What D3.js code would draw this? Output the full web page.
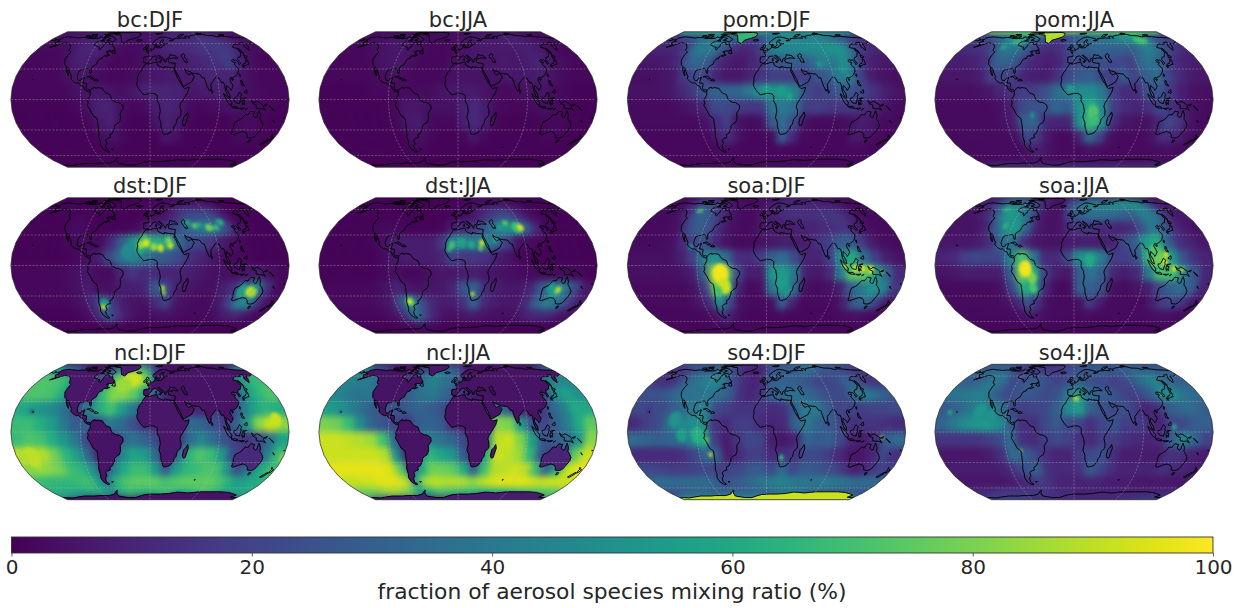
<!DOCTYPE html>
<html>
<head>
<meta charset="utf-8">
<script src="https://cdn.jsdelivr.net/npm/d3@7"></script>
<style>
  body { margin: 0; background: #fff; }
  text { font-family: "DejaVu Sans", sans-serif; fill: #262626; }
</style>
</head>
<body>
<div class="chart"></div>
<script>
// fraction (%) per 15x15 degree box, rows 82.5N -> 82.5S, columns 172.5W -> 172.5E
var bcDJF = [
[5,5,5,5,6,7,7,8,10,8,6,5,5,6,7,8,8,9,8,7,6,5,5,5],
[5,6,6,8,9,9,8,7,7,5,4,5,6,9,11,12,12,14,15,15,13,9,6,5],
[3,3,3,5,9,11,10,7,4,3,3,4,7,10,11,12,13,15,16,17,17,8,4,3],
[2,2,2,3,7,9,7,4,2,2,3,4,6,7,7,8,10,12,14,18,12,5,3,2],
[2,2,2,2,4,6,5,3,2,2,3,5,6,7,7,7,9,10,10,10,5,3,2,2],
[2,2,2,2,2,4,5,6,5,4,6,9,10,10,9,6,7,8,9,7,4,3,2,2],
[1,1,1,1,1,2,4,9,9,4,2,3,8,10,8,3,2,3,4,5,4,3,2,1],
[1,1,1,1,1,1,2,7,9,3,1,1,5,9,7,2,1,1,1,2,3,3,1,1],
[1,1,1,1,1,1,1,4,5,2,1,1,1,6,4,1,1,1,1,1,3,3,2,1],
[1,1,1,1,1,1,1,2,2,1,1,1,1,1,1,1,1,1,1,1,1,1,1,1],
[1,1,1,1,1,1,1,1,1,1,1,1,1,1,1,1,1,1,1,1,1,1,1,1],
[1,1,1,1,1,1,1,1,1,1,1,1,1,1,1,1,1,1,1,1,1,1,1,1]];
var bcJJA = [
[3,3,3,3,4,4,4,5,5,4,3,3,3,4,5,5,5,5,5,5,4,3,3,3],
[3,4,4,5,7,6,5,4,3,3,3,4,5,6,7,8,8,8,9,9,7,5,4,3],
[2,2,3,4,6,6,6,4,3,2,2,3,5,6,7,7,7,7,8,9,8,5,3,2],
[2,2,2,3,5,6,6,4,2,2,2,4,5,6,6,6,7,6,7,10,8,4,3,2],
[2,2,2,2,3,4,4,3,2,2,2,4,5,5,5,5,7,6,7,8,5,3,2,2],
[1,1,1,1,2,2,3,3,3,3,5,6,7,7,5,3,3,4,5,5,3,2,1,1],
[1,1,1,1,1,1,2,6,6,4,4,4,9,12,7,3,2,2,3,4,3,2,1,1],
[1,1,1,1,1,1,2,7,8,3,2,2,8,12,8,2,1,1,1,2,2,2,1,1],
[1,1,1,1,1,1,1,4,4,2,1,1,2,6,3,1,1,1,1,1,2,2,1,1],
[1,1,1,1,1,1,1,2,2,1,1,1,1,1,1,1,1,1,1,1,1,1,1,1],
[1,1,1,1,1,1,1,1,1,1,1,1,1,1,1,1,1,1,1,1,1,1,1,1],
[1,1,1,1,1,1,1,1,1,1,1,1,1,1,1,1,1,1,1,1,1,1,1,1]];
var pomDJF = [
[30,30,30,30,32,35,38,45,50,40,30,28,30,35,38,38,36,36,34,32,30,30,30,30],
[15,18,22,30,38,42,40,30,30,18,18,25,38,45,48,48,45,45,45,42,35,25,18,15],
[10,10,12,20,40,42,40,25,14,10,12,20,42,46,46,46,48,48,50,52,48,25,14,10],
[6,6,8,12,30,34,27,12,8,6,10,14,27,27,30,27,34,44,40,50,32,12,8,6],
[4,4,5,6,15,22,20,10,6,6,10,15,18,18,18,18,25,28,42,42,18,8,5,4],
[5,5,5,6,10,16,25,30,32,32,40,50,52,52,44,22,18,22,28,25,20,14,8,5],
[3,3,3,3,4,6,10,22,22,18,16,16,38,40,34,18,18,16,16,16,12,9,5,3],
[3,3,3,3,3,3,5,12,18,5,3,4,28,35,22,5,3,3,3,5,8,6,3,3],
[2,2,2,2,2,2,3,10,12,4,2,2,3,30,12,3,2,2,2,2,7,6,3,2],
[2,2,2,2,2,2,2,4,3,2,2,2,2,3,2,2,2,2,2,2,2,3,2,2],
[2,2,2,2,2,2,2,2,2,2,2,2,2,2,2,2,2,2,2,2,2,2,2,2],
[3,3,3,3,3,3,3,3,3,3,3,3,3,3,3,3,3,3,3,3,3,3,3,3]];
var pomJJA = [
[30,30,30,35,45,50,50,60,60,40,30,25,30,35,40,42,42,42,50,58,50,38,30,28],
[18,22,28,40,55,55,45,30,25,18,18,25,32,35,38,40,42,45,50,60,55,35,22,18],
[12,14,16,25,40,40,35,22,14,12,14,22,30,30,32,32,30,30,30,42,42,28,18,12],
[8,8,10,14,30,32,25,14,10,8,10,20,22,22,25,22,22,18,35,38,30,15,10,8],
[6,6,6,8,18,20,18,10,8,8,14,22,28,30,22,18,28,20,30,35,20,12,8,6],
[4,4,4,4,6,10,14,18,18,24,35,42,48,48,40,18,12,14,25,25,15,8,5,4],
[3,3,3,3,3,4,8,22,25,25,32,28,50,62,45,18,12,10,14,22,14,8,4,3],
[3,3,3,3,3,4,8,30,32,12,10,10,50,68,50,14,6,5,4,10,22,15,5,3],
[3,3,3,3,3,3,5,22,16,6,3,3,10,35,20,5,3,3,3,5,14,12,6,3],
[3,3,3,3,3,3,3,10,8,4,3,3,3,5,4,3,3,3,3,3,3,4,4,3],
[3,3,3,3,3,3,3,4,4,3,3,3,3,3,3,3,3,3,3,3,3,3,3,3],
[15,15,15,15,15,15,15,15,15,15,15,15,15,15,15,15,15,15,15,15,15,15,15,15]];
var dstDJF = [
[1,1,1,1,1,1,1,1,1,1,1,1,1,1,1,1,1,1,1,1,1,1,1,1],
[1,1,1,1,1,1,1,1,1,1,1,2,3,3,5,8,8,8,8,5,2,1,1,1],
[1,1,1,1,2,2,1,1,1,1,1,2,3,5,10,18,22,22,22,12,3,1,1,1],
[1,1,1,1,3,3,1,1,1,1,2,6,12,15,20,32,38,42,38,20,5,2,1,1],
[1,1,1,1,2,3,3,3,12,30,50,68,62,58,38,22,20,16,8,4,2,1,1,1],
[1,1,1,1,1,2,4,8,22,38,45,40,30,28,22,14,10,6,3,2,2,1,1,1],
[2,2,2,2,3,4,6,3,3,10,15,12,12,10,10,8,6,4,4,4,6,8,4,2],
[2,2,2,2,3,4,8,4,4,8,8,10,28,20,8,6,4,4,8,14,30,50,14,3],
[2,2,2,2,3,5,12,30,16,8,5,5,12,20,6,4,3,3,6,18,45,45,12,3],
[1,1,1,1,2,4,12,30,16,8,4,3,4,5,4,3,3,3,3,6,10,10,5,2],
[1,1,1,1,1,1,2,3,2,1,1,1,1,1,1,1,1,1,1,1,1,1,1,1],
[1,1,1,1,1,1,1,1,1,1,1,1,1,1,1,1,1,1,1,1,1,1,1,1]];
var dstJJA = [
[1,1,1,1,1,1,1,1,1,1,1,1,1,1,1,1,1,1,1,1,1,1,1,1],
[1,1,1,1,1,1,1,1,1,1,1,2,2,3,5,6,8,6,5,3,1,1,1,1],
[1,1,1,1,1,1,1,1,1,1,1,2,3,5,10,16,22,22,12,5,2,1,1,1],
[1,1,1,1,2,3,2,1,1,1,2,8,12,15,26,42,52,48,32,12,2,1,1,1],
[1,1,1,1,2,5,8,8,8,8,15,45,45,42,48,30,18,5,3,2,1,1,1,1],
[1,1,1,1,1,3,6,8,8,8,10,20,16,16,14,8,5,2,1,1,1,1,1,1],
[1,1,1,1,1,2,4,2,2,4,6,6,8,8,6,5,4,3,3,3,3,3,2,1],
[2,2,2,2,3,5,10,6,5,6,6,10,26,30,12,8,6,6,10,28,40,42,22,6],
[3,3,3,3,4,6,24,45,24,12,8,8,14,32,12,8,6,6,12,30,42,38,20,8],
[2,2,2,2,3,6,16,40,22,10,5,4,6,8,6,4,4,4,6,10,12,12,8,4],
[1,1,1,1,1,2,3,5,3,2,1,1,1,1,1,1,1,1,1,1,1,1,1,1],
[1,1,1,1,1,1,1,1,1,1,1,1,1,1,1,1,1,1,1,1,1,1,1,1]];
var soaDJF = [
[3,3,5,8,10,8,6,5,4,3,3,3,3,4,5,8,8,6,5,4,3,3,3,3],
[3,3,8,18,30,20,14,8,5,3,3,5,8,10,12,12,12,10,10,10,8,5,3,3],
[3,3,4,12,28,30,22,10,5,3,3,6,8,12,14,14,14,14,16,16,12,6,3,3],
[3,3,3,5,22,30,25,12,5,3,3,6,8,8,8,10,10,12,14,16,10,5,3,3],
[3,3,3,4,12,22,24,10,5,3,3,5,6,8,8,8,14,18,28,30,18,8,4,3],
[4,4,4,4,8,18,42,50,35,14,12,18,30,35,22,10,10,18,50,60,35,18,8,5],
[4,4,4,4,5,8,30,85,78,22,8,8,52,55,38,8,6,12,42,75,75,55,30,12],
[3,3,3,3,3,5,18,78,60,10,3,4,40,52,35,5,3,4,8,28,40,50,45,15],
[3,3,3,3,3,6,12,50,22,4,3,3,4,30,10,3,3,3,3,10,30,35,20,6],
[2,2,2,2,2,3,5,15,6,3,2,2,2,3,2,2,2,2,2,3,4,5,4,2],
[2,2,2,2,2,2,2,2,2,2,2,2,2,2,2,2,2,2,2,2,2,2,2,2],
[2,2,2,2,2,2,2,2,2,2,2,2,2,2,2,2,2,2,2,2,2,2,2,2]];
var soaJJA = [
[5,6,10,14,15,14,14,14,10,5,3,3,6,8,10,10,10,10,12,10,6,5,5,5],
[8,10,20,38,50,45,30,20,10,4,5,25,35,45,50,45,50,50,52,55,45,20,8,8],
[5,6,10,22,50,55,45,25,8,4,5,22,30,35,35,35,32,30,30,42,42,22,8,6],
[5,5,5,10,30,50,55,30,8,5,5,12,15,15,12,12,10,12,25,40,35,15,8,5],
[6,6,6,8,14,35,38,14,6,5,5,7,8,8,8,10,22,30,55,62,30,14,10,6],
[10,12,18,22,20,22,45,72,40,12,12,22,50,55,40,18,18,25,65,80,55,25,14,10],
[5,6,8,8,8,8,30,80,62,18,8,6,30,38,28,10,8,12,40,70,70,45,25,10],
[3,3,3,3,3,5,22,62,50,10,3,3,30,30,25,5,3,5,8,20,30,35,30,10],
[3,3,3,3,3,5,10,25,14,4,3,3,4,18,8,3,3,3,3,8,18,20,15,5],
[3,3,3,3,3,3,4,10,5,3,3,3,3,3,3,3,3,3,3,3,4,5,4,3],
[2,2,2,2,2,2,2,2,2,2,2,2,2,2,2,2,2,2,2,2,2,2,2,2],
[2,2,2,2,2,2,2,2,2,2,2,2,2,2,2,2,2,2,2,2,2,2,2,2]];
var nclDJF = [
[8,8,6,5,5,5,5,5,8,25,30,15,10,5,5,5,5,5,5,5,5,5,5,8],
[55,50,40,25,10,5,10,30,62,80,78,70,30,8,5,5,5,5,5,5,5,15,35,52],
[72,72,70,62,30,5,30,62,80,90,92,80,45,10,5,5,5,5,5,5,20,45,62,68],
[72,72,70,62,42,12,40,68,82,82,75,55,30,12,5,5,5,5,5,8,30,55,65,72],
[60,55,50,45,35,22,42,62,70,55,40,25,5,5,8,12,10,18,10,22,42,58,65,62],
[68,68,62,55,40,28,30,25,40,35,25,15,10,8,8,35,32,25,18,30,55,82,92,82],
[68,72,70,62,52,40,22,8,15,30,38,32,22,8,15,35,45,35,25,18,15,22,38,58],
[88,90,88,78,65,55,32,8,18,45,58,55,35,8,35,65,72,68,52,22,12,22,42,68],
[82,85,82,78,68,65,50,22,42,60,68,68,55,28,55,65,68,72,70,50,22,40,58,68],
[68,66,66,66,68,70,58,40,65,72,75,75,75,70,72,75,75,75,75,72,62,55,58,62],
[62,62,62,60,60,62,58,52,62,68,65,62,65,70,68,62,62,68,70,68,62,60,60,60],
[30,25,15,10,8,15,15,5,5,5,5,5,5,5,5,5,5,5,5,5,5,5,8,15]];
var nclJJA = [
[8,8,6,5,5,5,5,5,5,20,25,12,8,5,5,5,5,5,5,5,5,5,5,8],
[42,38,30,20,8,5,8,20,32,42,38,32,20,5,5,5,5,5,5,5,5,12,28,36],
[45,42,42,35,18,5,18,30,40,45,38,35,20,6,5,5,5,5,5,5,15,38,48,46],
[45,40,38,40,30,10,25,32,38,40,35,28,15,8,5,5,5,5,5,8,25,50,58,50],
[55,52,42,35,28,25,25,28,32,30,25,15,5,5,12,42,30,10,8,15,32,42,60,60],
[80,78,68,48,32,25,22,15,28,32,28,15,8,8,22,82,80,55,25,20,30,42,60,75],
[92,92,90,88,85,70,35,8,38,42,38,32,22,8,45,90,92,80,55,25,30,35,52,82],
[92,92,92,92,92,88,48,8,45,65,58,52,28,10,62,92,90,85,65,25,15,35,75,92],
[96,96,96,96,96,94,75,30,60,78,78,75,62,30,68,88,90,92,90,68,30,60,90,96],
[90,92,92,95,95,95,90,55,85,90,88,88,88,82,88,92,95,95,95,95,90,92,92,92],
[75,78,80,85,85,82,75,55,60,70,70,68,65,68,60,62,62,62,65,68,70,72,72,72],
[22,18,15,15,15,15,8,8,8,8,8,8,8,8,8,8,8,8,8,8,8,8,12,20]];
var so4DJF = [
[25,25,25,22,22,22,20,15,15,15,12,15,22,25,25,28,30,35,35,35,30,28,25,25],
[15,15,20,28,30,32,40,30,18,10,8,10,25,30,30,30,38,35,28,25,25,22,18,15],
[15,12,18,32,38,42,48,38,22,14,10,12,30,32,30,28,25,20,20,22,32,28,18,15],
[25,25,28,35,38,38,40,35,28,14,10,15,30,35,38,35,30,25,22,22,38,42,35,28],
[22,20,22,28,35,40,45,22,18,15,15,15,12,14,28,42,40,30,20,20,18,20,20,22],
[12,18,22,35,45,48,50,15,12,18,18,12,10,12,30,40,32,28,20,14,15,15,14,12],
[35,32,30,32,35,45,62,18,8,15,22,20,8,6,10,32,28,30,22,10,8,14,30,35],
[12,12,12,12,14,20,32,30,8,12,18,18,12,14,15,22,22,18,12,6,6,10,22,14],
[22,20,18,18,18,20,22,18,20,22,28,28,22,35,22,28,28,25,22,15,8,12,18,20],
[35,35,35,35,35,35,32,22,28,30,35,40,42,45,42,40,40,40,42,40,38,35,35,35],
[25,25,28,30,32,28,30,30,30,30,30,30,32,35,38,38,35,30,30,28,28,28,28,25],
[60,60,60,60,60,60,60,50,50,60,60,60,60,60,60,60,60,60,60,60,60,60,60,60]];
var so4JJA = [
[22,22,22,20,22,18,15,12,12,12,15,20,22,22,22,22,22,22,25,25,25,22,22,22],
[30,32,35,38,25,18,18,18,18,18,18,25,25,28,30,30,28,28,30,35,35,32,30,30],
[30,30,35,42,35,22,25,30,28,22,20,25,30,25,22,22,18,22,28,38,45,40,32,30],
[38,40,42,42,30,22,25,28,25,22,25,42,55,35,30,28,22,18,22,30,45,48,38,35],
[28,32,38,45,42,38,20,18,20,22,30,48,55,30,25,22,25,18,10,14,28,32,35,30],
[32,40,48,52,55,48,30,14,14,22,28,22,20,14,22,25,18,18,14,10,20,22,28,30],
[15,15,15,15,18,22,35,14,12,18,22,20,14,12,18,18,14,12,10,12,30,45,32,20],
[6,6,6,6,8,14,35,30,22,14,10,10,18,22,25,14,8,8,8,8,14,14,10,8],
[8,8,8,8,8,10,18,25,30,14,12,12,14,28,22,14,10,10,10,10,14,12,10,8],
[6,6,6,6,6,8,10,14,18,14,10,10,10,10,10,8,8,8,6,6,6,6,6,6],
[12,12,14,16,16,16,16,16,16,14,12,12,10,10,10,10,10,10,10,10,10,10,10,12],
[25,22,22,20,20,18,14,12,14,14,14,14,12,12,12,12,12,12,14,14,16,18,20,22]];

// small features finer than a box: [lon, lat, %, radius deg] or [lon0, lat0, lon1, lat1, %]
var pomDJFspots = [[-180,77,-90,90,62],[-90,77,0,90,62],[0,78,90,90,56],[90,78,180,90,56],[0,9,55,5],[20,8,55,5],[30,3,58,4],[75,35,55,3],[105,30,50,4],[110,22,60,2]];
var pomJJAspots = [[-180,77,-90,90,80],[-90,77,0,90,80],[0,78,90,90,78],[90,78,180,90,78],[25,-12,72,7],[28,-20,68,5],[-5,10,55,4],[-100,63,65,4],[120,65,72,5],[-55,-15,52,3],[-115,55,60,3]];
var dstDJFspots = [[-30,14,48,7],[-14,15,60,5],[-12,20,85,4],[-5,22,95,4],[5,18,85,4],[14,17,92,4],[27,20,92,4],[25,24,80,4],[-8,28,70,3],[55,43,55,4],[65,40,75,3],[72,41,60,3],[85,38,80,4],[95,38,70,3],[105,44,62,4],[125,-25,55,7],[135,-25,92,5],[140,-27,85,5],[-65,-38,55,5],[-69,-42,90,3],[17,-22,85,3],[19,-27,80,2.5]];
var dstJJAspots = [[-8,20,70,4],[-12,16,65,3],[5,22,58,5],[18,20,60,4],[32,22,95,3],[30,17,75,3],[85,38,70,6],[90,38,96,3.5],[70,43,75,3],[60,38,55,3],[50,25,55,4],[-68,-36,70,5],[-69,-36,96,3],[20,-28,90,2.5],[125,-22,55,5],[130,-28,50,5],[135,-24,85,4]];
var soaDJFspots = [[-60,-8,98,10],[-56,-20,92,8],[-65,-25,70,5],[20,-15,55,8],[28,-25,50,5],[-100,18,50,3],[115,-3,95,3],[125,-3,98,3],[135,-4,95,4],[102,0,92,2.5],[150,-6,80,2],[-112,58,70,3]];
var soaJJAspots = [[-55,-12,80,6],[-55,-22,72,5],[-63,-3,98,8],[20,5,60,6],[105,15,72,5],[120,10,95,3],[118,3,98,3],[130,-3,95,3],[140,-4,90,2.5],[103,3,85,2.5],[-100,40,65,3],[-115,60,65,3]];
var nclDJFspots = [[-160,-25,90,10],[-175,-25,88,8],[-28,56,92,8],[-40,48,85,8],[165,12,92,7],[-157,20,15,2]];
var nclJJAspots = [[-157,20,30,2]];
var so4DJFspots = [[-120,12,50,8],[-110,-3,55,7],[-90,-3,62,8],[-75,-22,90,2.5],[-78,-8,70,3],[150,-5,85,2],[20,-25,65,3],[-157,20,10,2]];
var so4JJAspots = [[-125,20,52,8],[-110,15,50,7],[3,33,88,3],[-70,-18,90,1.5],[125,38,70,2],[-165,19,62,2.5],[130,5,60,3],[150,-5,70,1.5]];

// land masses that carry one value: [coast name, %]
var pomDJFice = [["greenland",66]];
var pomJJAice = [["greenland",88]];
var so4DJFice = [["antarctica",92]];
var nclDJFland = [["greenland",8],["antarctica",5],["northAmerica",6],["southAmerica",5],["africa",6],["eurasia",5],["australia",12],["madagascar",10]];
var nclJJAland = [["greenland",6],["antarctica",8],["northAmerica",5],["southAmerica",5],["africa",5],["eurasia",5],["australia",10],["madagascar",8]];

var titles = ["bc:DJF","bc:JJA","pom:DJF","pom:JJA","dst:DJF","dst:JJA","soa:DJF","soa:JJA","ncl:DJF","ncl:JJA","so4:DJF","so4:JJA"];
var fields = [bcDJF,bcJJA,pomDJF,pomJJA,dstDJF,dstJJA,soaDJF,soaJJA,nclDJF,nclJJA,so4DJF,so4JJA];
var spots = [[],[],pomDJFspots,pomJJAspots,dstDJFspots,dstJJAspots,soaDJFspots,soaJJAspots,nclDJFspots,nclJJAspots,so4DJFspots,so4JJAspots];
var lands = [[],[],pomDJFice,pomJJAice,[],[],[],[],nclDJFland,nclJJAland,so4DJFice,[]];

var colorTicks = [0,20,40,60,80,100];
var colorLabel = "fraction of aerosol species mixing ratio (%)";
var gridLons = [-90,0,90];
var gridLats = [-60,-30,0,30,60];

// coastlines, lon/lat
var greenland = [[-73,78.2],[-60,82],[-45,82.7],[-30,83.5],[-20,81.5],[-18,76],[-22,71],[-30,68],[-40,65],[-43,60],[-50,62],[-53,67],[-55,70],[-58,75],[-68,76],[-73,78.2]];
var antarctica = [[-180,-78],[-160,-79],[-150,-77],[-130,-74],[-110,-74],[-100,-73],[-80,-73],[-68,-70],[-60,-64],[-58,-63.5],[-62,-68],[-62,-74],[-45,-78],[-30,-78],[-20,-74],[-10,-71],[5,-70],[20,-70],[35,-69],[50,-66.5],[60,-67],[70,-68],[80,-67],[90,-66],[110,-66],[130,-66],[145,-67],[160,-70],[168,-72],[165,-77],[170,-78],[180,-78]];
var northAmerica = [[-168,65.5],[-164,66.5],[-166,68.5],[-162,70],[-156.5,71.3],[-150,70.5],[-141,69.7],[-135,69],[-128,70],[-120,69.5],[-115,68],[-108,68],[-100,68],[-96,68.5],[-94,71.5],[-90,69],[-85,69.5],[-82,68],[-86,66],[-87,64.5],[-91,63],[-94,61],[-94.5,58.8],[-92,57],[-88,56.5],[-85,55.3],[-82.3,55],[-82,52.9],[-79.5,51.3],[-79,52],[-79,54.5],[-77,56],[-78,58.7],[-77.5,61],[-74,62.2],[-70,61],[-69.5,59],[-66,58.7],[-64.5,60.3],[-61.5,56.5],[-57,53.5],[-56,52],[-60,50.2],[-65,50.2],[-68,48.9],[-65,49.2],[-64.5,47.5],[-65,46],[-61,45.3],[-64,44.3],[-66,43.7],[-66,45],[-69,44],[-70.7,43],[-70,41.7],[-74,40.6],[-75.5,38],[-76,35],[-78,34],[-81,32],[-81.5,30],[-80,26.8],[-80.4,25.2],[-81.8,26],[-82.8,28],[-84,30],[-86,30.4],[-89,30.2],[-90,29.2],[-94,29.6],[-97,28],[-97.5,25],[-97.8,22.3],[-96,19],[-94,18.2],[-91.5,18.6],[-90.5,21],[-87,21.5],[-88,18.5],[-88.5,16],[-84,15.8],[-83.3,14.8],[-83.7,11],[-82,9],[-79.7,9.5],[-77.3,8.7],[-78,7.5],[-80,7.3],[-83,8.3],[-85.7,10],[-87.5,13],[-91,14],[-94.5,16.2],[-97,15.8],[-101,17.3],[-105.5,20],[-105.5,22.5],[-109,26],[-112.5,30],[-114.7,31.6],[-112,27],[-109.7,23],[-112,25],[-115,28.5],[-117,32.5],[-120.5,34.5],[-122.5,37.5],[-124.3,40.3],[-124,46],[-123,49],[-128,51],[-130,54.5],[-134,58],[-140,60],[-147,61],[-152,59.5],[-158,56.5],[-164,54.7],[-158,58.5],[-162,59.5],[-165,61.5],[-161,64],[-168,65.5]];
var southAmerica = [[-77.3,8.7],[-75.5,10.7],[-72,12],[-71.5,10.8],[-68,11.5],[-62,10.7],[-60,8.5],[-57,6],[-52,4.8],[-50,1],[-48,-1],[-44,-2.7],[-40,-3],[-35.2,-5.5],[-35,-9],[-39,-13],[-39,-18],[-41,-22],[-45,-23.7],[-48.5,-26],[-49,-29],[-53,-33.5],[-57,-35],[-57,-38],[-62,-39],[-65,-41],[-65,-45],[-68,-47],[-69,-51],[-68.3,-52.5],[-65.5,-55],[-69,-55.5],[-74,-52],[-75.5,-47],[-73.5,-42],[-73.5,-37],[-71.5,-32],[-70.5,-25],[-70.3,-18.5],[-75,-15.5],[-78,-10],[-81.3,-6],[-80,-3],[-81,-0.5],[-79.5,1.5],[-77.5,4],[-77.5,7],[-78,7.5],[-77.3,8.7]];
var africa = [[-5.9,35.8],[-1,35.2],[5,36.8],[10,37.3],[11,34],[15,32.3],[20,31],[20,32.8],[25,31.7],[32,31.2],[34.3,31],[33,28],[35.5,24],[37.3,20],[38.5,18],[41,15],[43.2,12],[45,10.5],[51.2,11.8],[49,7],[44,1],[40,-3.5],[38.8,-6.5],[40.5,-11],[40.5,-15.5],[36,-19],[35,-24],[32.8,-26],[32,-29],[28,-33],[25,-34],[20,-34.8],[18.3,-34],[15,-27],[14.5,-22],[11.8,-17.5],[13.5,-11],[12,-5],[9,-1],[9.5,3],[8.5,4.5],[5,5.8],[1,5.8],[-4,5.2],[-8,4.4],[-13,8.5],[-16.5,12.5],[-17.4,14.8],[-16.3,19],[-17,21],[-14.5,26],[-11,29],[-9.7,31.5],[-5.9,35.8]];
var eurasiaWest = [[-5.5,36],[-9,37],[-9.3,39],[-9,43],[-2,43.5],[-1,46],[-4.5,48.4],[-1.5,48.7],[1.5,50.5],[4,52],[8,54],[8.2,57],[10.5,57.5],[10,54.5],[14,54],[19,54.5],[21,57],[24,57.3],[24,59.3],[30,60],[23,60],[21.5,62.5],[25.3,65.3],[22,65.7],[18,62.5],[17.5,60],[18.5,59],[16,56.2],[13,55.5],[11,59],[8,58],[5.5,59],[5.5,62],[13,67],[19,70],[25,71],[31,70],[41,67],[40,65],[35,64.5],[38,64],[44,66],[44,68],[54,68.5],[60,69],[68,68.5],[67,72],[73,72.5],[73,68],[75,72],[80,73.5],[87,75],[100,76.5],[105,77.7],[113,74],[125,73.5],[130,71],[140,72.5],[150,71.5],[160,70],[170,69.8],[180,68.9]];
var eurasiaEast = [[180,65],[179,62.5],[171,60],[164,59.8],[162,56],[159,53],[156.7,51],[155.7,56],[161,60.5],[163,62],[156,61.5],[155,59.3],[143,59.3],[135,54.7],[140,53.5],[140,48],[135,43.5],[130.5,42.5],[128,40],[129.4,36],[126.5,34.5],[126.5,37.5],[125,39.7],[121.5,39],[122,40.5],[118,39],[119,37.5],[122.5,37],[119.5,35],[122,31],[121.5,28],[118,24.5],[114,22.3],[110,21],[108,21.5],[106,19],[109,13],[107,10.5],[105,8.7],[105,10],[100.5,13.5],[99.5,10],[103,5.5],[104,1.5],[101,3],[98.5,8],[98,14],[97,16.5],[94.5,16],[92,21],[89,22],[86.5,20.5],[82,16.5],[80,15],[80,11],[77.5,8],[75,12.5],[73,19],[72.5,21],[70,21],[67,24.8],[62,25.2],[57,25.7],[56,27],[51,28],[48,30],[48.5,28],[50.5,25],[52,24],[56,25.5],[59.5,22.5],[55,17],[45,13],[43,13],[40,20],[35,28],[34.5,31],[36,36],[32,36.2],[27,37],[26.5,40],[29,41],[35,42],[41.5,41.5],[37,45],[33.5,45],[30.5,46],[28,42],[24,40.8],[23,38],[22,37],[19.5,41.5],[14,45],[12.3,45],[16,41.8],[18.4,40],[16,38],[15.7,40],[11,42.5],[8.5,44.3],[3.5,43.3],[3,41.7],[0,39.5],[-0.5,38],[-2,36.7],[-5.5,36]];
var australia = [[114,-22],[113.5,-26],[115,-31],[115,-34.3],[118,-35],[124,-33],[129,-31.6],[134,-32.5],[138,-35],[140,-38],[144,-38.5],[147,-38.5],[150,-37],[151.5,-33],[153.5,-28],[153,-25],[149,-21],[146,-19],[145.3,-15],[142.5,-10.8],[141.5,-13],[141,-17],[139,-17.5],[136,-15.5],[136.8,-12],[132,-11.3],[130,-13],[129,-15],[125,-14.5],[122,-18],[119,-20],[114,-22]];
var madagascar = [[49.3,-12],[50.5,-15.5],[47.5,-25],[45,-25.5],[43.5,-23],[44.5,-17],[47,-15.5],[49.3,-12]];
var islands = [
[[-180,68.9],[-175,67.5],[-170,66],[-173,64.3],[-178,65.5],[-180,65]],
[[145,-41],[148,-41],[148,-43],[146,-43.6],[145,-41]],
[[173,-35],[175.5,-37],[178.3,-37.8],[176.8,-40],[175,-41.5],[174,-39.5],[174.7,-37.5],[173,-35]],
[[172.7,-40.5],[174,-41.7],[171,-45],[169,-46.6],[166.5,-46],[169,-43.5],[172.7,-40.5]],
[[131,-1],[135,-3.3],[138,-1.7],[141,-2.6],[145,-4.5],[147.5,-6],[147,-7],[150.5,-10.5],[146,-8.7],[143,-9],[138,-8.3],[138,-5.5],[133,-4],[132.5,-2.7],[131,-1]],
[[109,1.5],[111,1.5],[113,3],[116,7],[119,5],[117.5,3],[118,1],[116.5,-1.5],[116,-4],[111,-3],[109,-0.5],[109,1.5]],
[[95.5,5.5],[98,4],[104,-1],[106,-3],[105.5,-5.8],[102,-4],[98.5,0],[95.5,5.5]],
[[105.3,-6.5],[108.5,-6.7],[111,-6.5],[114.5,-7.8],[114.5,-8.7],[108,-7.8],[105.3,-6.5]],
[[120,1],[125,1.5],[121,0.5],[120.5,-1],[123,-1],[122,-3],[122.5,-5],[120.5,-3],[120.3,-5.5],[119.5,-5],[119,-2.5],[120,1]],
[[120.5,18.5],[122,18.3],[122,16],[124,13],[121,13.7],[120,15.5],[120.5,18.5]],
[[122,7],[124,8.5],[126,9.5],[126.3,7],[125.3,5.8],[124,6.5],[122,7]],
[[116,-8.5],[119,-8.5],[123,-8.3],[120,-9.5],[116,-8.5]],
[[124,-10],[127,-8.5],[125,-9.5],[124,-10]],
[[148,-5.7],[152,-4.3],[151,-6],[148,-5.7]],
[[155,-6],[157,-7.5],[160,-9],[161.5,-10.5],[158,-8.5],[155,-6]],
[[164,-20],[167,-22.3],[165,-21.5],[164,-20]],
[[177.3,-17.5],[178.5,-18],[177.5,-18.3],[177.3,-17.5]],
[[121,25],[122,24.5],[121,22],[120,23],[121,25]],
[[109,20],[111,19.7],[110,18.3],[108.7,19],[109,20]],
[[80,9.7],[82,7.5],[80.5,6],[79.8,8],[80,9.7]],
[[131,34.3],[133,35.5],[136,36],[137,37.2],[139.5,38.5],[140,40.7],[141.5,41.3],[142,39.5],[141,37],[140.5,35],[137,34.6],[135,33.7],[132,33.7],[131,34.3]],
[[140,42],[141.7,45.5],[145.2,43.5],[143,42],[141,42.5],[140,42]],
[[130,33.5],[132,33],[131,31],[130,32],[130,33.5]],
[[142,54],[143,52],[144,49],[142.5,46],[142,50],[142,54]],
[[-5.5,50],[1.5,51.2],[1.5,53],[-1.5,55],[-2,57.5],[-5,58.5],[-6,56.5],[-3,54],[-5,52],[-5.5,50]],
[[-6,52],[-6,55],[-8,55],[-10,53],[-10,51.7],[-6,52]],
[[-24,65.5],[-18,66.5],[-14,65],[-19,63.5],[-22.5,64],[-24,65.5]],
[[-85,22],[-80,23],[-74.5,20.2],[-78,19.9],[-82,22],[-85,22]],
[[-74.5,18.5],[-72,20],[-68.5,18.5],[-71,18],[-74.5,18.5]],
[[-80,73.7],[-72,71.5],[-62,66.5],[-65,62.5],[-72,64],[-78,65],[-73,68],[-80,70],[-89,71],[-80,73.7]],
[[-117,70],[-105,69],[-102,72],[-110,73],[-117,70]],
[[-90,76.5],[-75,78],[-62,82.5],[-75,83],[-90,81.5],[-90,76.5]],
[[-125,72],[-118,71],[-118,74],[-125,74],[-125,72]],
[[-90,75],[-80,74.5],[-80,75.5],[-92,76.5],[-90,75]],
[[-117,75.2],[-106,75],[-106,76.5],[-117,76],[-117,75.2]],
[[-87,64],[-81,63.7],[-85,65.5],[-87,64]],
[[-59,47.8],[-56,51.5],[-53,47],[-56,47],[-59,47.8]],
[[12,78],[20,80.3],[27,80],[20,77],[12,78]],
[[52,71],[57,71],[69,77],[60,76],[52,71]],
[[95,79],[105,78],[100,81],[95,79]],
[[137,75],[148,75],[140,76],[137,75]],
[[47,45],[51,47],[53,45],[51,43],[53.5,40],[54,37],[50,37.5],[49,40],[47,43],[47,45]],
[[12.5,38],[15.5,38],[15,36.7],[12.5,38]],
[[8.3,41],[9.7,41],[9.5,39],[8.5,39],[8.3,41]],
[[-156,20],[-155,19.5],[-155.8,19],[-156,20]],
[[69,-49],[70.5,-49],[69.5,-50],[69,-49]],
[[-61,-51.5],[-58,-51.5],[-60,-52.3],[-61,-51.5]]
];
var coasts = [greenland, antarctica, northAmerica, southAmerica, africa, eurasiaWest, eurasiaEast, australia, madagascar].concat(islands);

var landRings = {
  greenland: greenland,
  northAmerica: northAmerica,
  southAmerica: southAmerica,
  africa: africa,
  australia: australia,
  madagascar: madagascar,
  eurasia: eurasiaWest.slice(0, -1).concat([[179.99, 68.9], [179.99, 65]]).concat(eurasiaEast.slice(1)),
  antarctica: antarctica.map(function(p) {
    return [Math.max(Math.min(p[0], 179.99), -179.99), p[1]];
  }).concat([[179.99, -89.9], [90, -89.9], [0, -89.9], [-90, -89.9], [-179.99, -89.9], [-179.99, -78]])
};

var svgWidth = 1246, svgHeight = 608;
var colCenters = [150, 458, 766.5, 1074];
var rowCenters = [99.5, 265.5, 432];
var titleBase = [27, 193, 359.5];
var mapScale = 51.4;

var svg = d3.select(".chart").append("svg")
  .attr("width", svgWidth)
  .attr("height", svgHeight)
  .style("display", "block");
var defs = svg.append("defs");

var color = d3.scaleSequential(d3.interpolateViridis).domain([0, 100]);

function addFilter(id, blur) {
  var f = defs.append("filter").attr("id", id)
    .attr("filterUnits", "userSpaceOnUse")
    .attr("x", 0).attr("y", 0).attr("width", svgWidth).attr("height", svgHeight)
    .attr("color-interpolation-filters", "sRGB");
  f.append("feGaussianBlur").attr("stdDeviation", blur);
  return f;
}

// coarse boxes: blur, then push alpha back to 1 so the sphere edge does not fade
addFilter("smooth", 3.2)
  .append("feComponentTransfer").append("feFuncA").attr("type", "linear").attr("slope", 60);
addFilter("soft", 1.5);
addFilter("crisp", 0.6);

function box(lon0, lat0, lon1, lat1) {
  var w = Math.max(lon0, -179.999), e = Math.min(lon1, 179.999);
  var n = Math.min(lat1, 89.999), s = Math.max(lat0, -89.999);
  var top = d3.range(w, e, 3.75).concat([e]).map(function(x) { return [x, n]; });
  var bottom = top.slice().reverse().map(function(p) { return [p[0], s]; });
  var ring = top.concat(bottom);
  ring.push(ring[0]);
  return { type: "Polygon", coordinates: [ring] };
}

// d3 wants small polygons clockwise on the sphere
function landShape(name) {
  var ring = landRings[name].slice();
  if (ring[0][0] !== ring[ring.length - 1][0] || ring[0][1] !== ring[ring.length - 1][1]) ring.push(ring[0]);
  var shape = { type: "Polygon", coordinates: [ring] };
  if (d3.geoArea(shape) > 2 * Math.PI) shape.coordinates = [ring.slice().reverse()];
  return shape;
}

var gridLines = {
  type: "MultiLineString",
  coordinates: gridLons.map(function(lon) {
    return d3.range(-90, 90.1, 3).map(function(lat) { return [lon, lat]; });
  }).concat(gridLats.map(function(lat) {
    return d3.range(-179.9, 180, 4).map(function(lon) { return [lon, lat]; });
  }))
};

titles.forEach(function(title, i) {
  var col = i % 4, row = Math.floor(i / 4);
  var cx = colCenters[col], cy = rowCenters[row];

  var projection = d3.geoEqualEarth().scale(mapScale).translate([cx, cy]).rotate([0, 0]);
  var path = d3.geoPath(projection);

  var clipId = "clip" + i;
  defs.append("clipPath").attr("id", clipId).append("path")
    .attr("d", path({ type: "Sphere" }));

  var panel = svg.append("g");
  var inner = panel.append("g").attr("clip-path", "url(#" + clipId + ")");

  var cells = [];
  fields[i].forEach(function(rowValues, r) {
    rowValues.forEach(function(v, c) {
      var lon0 = -180 + c * 15, lat1 = 90 - r * 15;
      cells.push({ value: v, shape: box(lon0, lat1 - 15, lon0 + 15, lat1) });
    });
  });

  inner.append("g").attr("filter", "url(#smooth)")
    .selectAll("path")
    .data(cells)
    .enter()
    .append("path")
    .attr("d", function(d) { return path(d.shape); })
    .attr("fill", function(d) { return color(d.value); })
    .attr("stroke", function(d) { return color(d.value); })
    .attr("stroke-width", 0.6);

  var details = spots[i].map(function(s) {
    if (s.length === 5) return { value: s[4], shape: box(s[0], s[1], s[2], s[3]) };
    return { value: s[2], shape: d3.geoCircle().center([s[0], s[1]]).radius(s[3])() };
  });

  inner.append("g").attr("filter", "url(#soft)")
    .selectAll("path")
    .data(details)
    .enter()
    .append("path")
    .attr("d", function(d) { return path(d.shape); })
    .attr("fill", function(d) { return color(d.value); });

  inner.append("g").attr("filter", "url(#crisp)")
    .selectAll("path")
    .data(lands[i])
    .enter()
    .append("path")
    .attr("d", function(d) { return path(landShape(d[0])); })
    .attr("fill", function(d) { return color(d[1]); });

  inner.append("path")
    .attr("d", path({ type: "MultiLineString", coordinates: coasts }))
    .attr("fill", "none")
    .attr("stroke", "#000")
    .attr("stroke-width", 0.95);

  inner.append("path")
    .attr("d", path(gridLines))
    .attr("fill", "none")
    .attr("stroke", "#c4c4c4")
    .attr("stroke-opacity", 0.5)
    .attr("stroke-width", 0.7)
    .attr("stroke-dasharray", "2.2,1.4");

  panel.append("path")
    .attr("d", path({ type: "Sphere" }))
    .attr("fill", "none")
    .attr("stroke", "#222")
    .attr("stroke-width", 0.7);

  svg.append("text")
    .attr("x", cx)
    .attr("y", titleBase[row])
    .attr("text-anchor", "middle")
    .style("font-size", "21px")
    .text(title);
});

// colorbar
var barLeft = 11.5, barRight = 1213, barTop = 537, barHeight = 16;
var barScale = d3.scaleLinear().domain([0, 100]).range([barLeft, barRight]);

var gradient = defs.append("linearGradient").attr("id", "viridis");
gradient.selectAll("stop")
  .data(d3.range(0, 100.1, 2))
  .enter()
  .append("stop")
  .attr("offset", function(d) { return d + "%"; })
  .attr("stop-color", function(d) { return color(d); });

svg.append("rect")
  .attr("x", barLeft).attr("y", barTop)
  .attr("width", barRight - barLeft).attr("height", barHeight)
  .attr("fill", "url(#viridis)")
  .attr("stroke", "#333")
  .attr("stroke-width", 0.9);

var barAxis = svg.append("g")
  .attr("transform", "translate(0," + (barTop + barHeight) + ")")
  .call(d3.axisBottom(barScale).tickValues(colorTicks).tickSize(3.5).tickPadding(3.5).tickFormat(d3.format("d")));
barAxis.select(".domain").remove();
barAxis.selectAll("line").attr("stroke", "#333").attr("stroke-width", 0.8);
barAxis.selectAll("text").style("font-size", "20px").attr("fill", "#262626");

svg.append("text")
  .attr("x", 612)
  .attr("y", 598.5)
  .attr("text-anchor", "middle")
  .style("font-size", "21.8px")
  .text(colorLabel);
</script>
</body>
</html>
